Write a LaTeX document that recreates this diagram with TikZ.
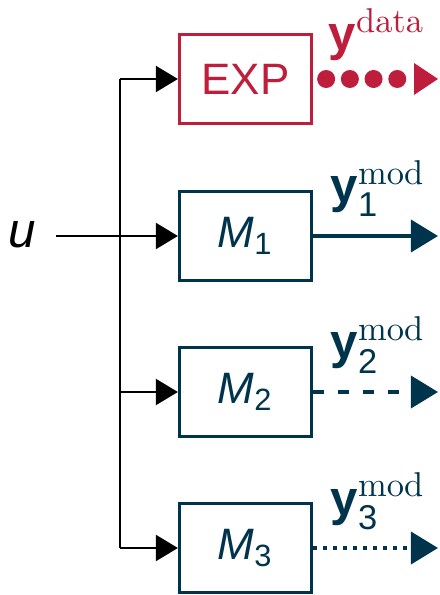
\documentclass[tikz,border=0pt]{standalone}
\usepackage{amsmath}
\usepackage{fontspec}
\usetikzlibrary{arrows.meta}
\newfontfamily\arialfont{Liberation Sans}
\definecolor{expred}{RGB}{190,30,60}
\definecolor{modblue}{RGB}{0,52,77}

\begin{document}
\begin{tikzpicture}[x=0.01cm, y=-0.01cm,
    block/.style={draw, line width=0.9pt, minimum width=1.32cm, minimum height=0.89cm,
        inner sep=0pt, font=\arialfont\fontsize{12.5}{15}\selectfont},
    inarrow/.style={line width=0.6pt, -{Triangle[length=0.22cm 0 0, width=0.26cm 0 0]}},
    outarrow/.style={line width=1.05pt, modblue, -{Triangle[length=0.27cm 0 0, width=0.32cm 0 0]}},
    lbl/.style={anchor=base west, inner sep=0pt, font=\fontsize{14}{16}\selectfont}
]

    \useasboundingbox (0,0) rectangle (439,595);

    % ==========================================
    % BLOCKS
    % ==========================================

    \node[block, expred] (exp) at (245.5, 79) {EXP};
    \node[block, modblue] (m1) at (245.5, 236) {{\itshape M}$_{\text{\arialfont 1}}$};
    \node[block, modblue] (m2) at (245.5, 392) {{\itshape M}$_{\text{\arialfont 2}}$};
    \node[block, modblue] (m3) at (245.5, 548) {{\itshape M}$_{\text{\arialfont 3}}$};

    % ==========================================
    % INPUT AND DISTRIBUTION
    % ==========================================

    \node[inner sep=0pt, font=\arialfont\itshape\fontsize{14}{16}\selectfont] (u) at (22.5, 234.5) {u};
    \coordinate (bus) at (120, 236);

    \draw[line width=0.6pt] (exp.west -| bus) -- (m3.west -| bus);
    \draw[inarrow, shorten <=0.19cm] (u.east |- m1.west) -- (m1.west);
    \foreach \blk in {exp, m2, m3}
        \draw[inarrow] (\blk.west -| bus) -- (\blk.west);

    % ==========================================
    % OUTPUTS
    % ==========================================

    \coordinate (oexp) at (438, 79);
    \coordinate (om1) at (438, 236);
    \coordinate (om2) at (438, 392);
    \coordinate (om3) at (438, 548);

    % Measured data: big dots
    \draw[expred, line width=0.18cm, line cap=round, dash pattern=on 0pt off 0.237cm,
        shorten <=0.13cm,
        -{Triangle[length=0.24cm 0 0, width=0.32cm 0 0, line width=0pt 0 0]}] (exp.east) -- (oexp);

    % Models
    \draw[outarrow] (m1.east) -- (om1);
    \draw[outarrow, dash pattern=on 0.11cm off 0.14cm] (m2.east) -- (om2);
    \draw[outarrow, dash pattern=on 0.035cm off 0.065cm] (m3.east) -- (om3);

    % Labels
    \node[lbl, expred] (ldata) at (328, 51) {{\arialfont\bfseries y}$^{\mathrm{data}}$};
    \node[lbl, modblue] (lm1) at (330, 203) {{\arialfont\bfseries y}$^{\mathrm{mod}}_{\text{\arialfont 1}}$};
    \node[lbl, modblue] (lm2) at (330, 359) {{\arialfont\bfseries y}$^{\mathrm{mod}}_{\text{\arialfont 2}}$};
    \node[lbl, modblue] (lm3) at (330, 515) {{\arialfont\bfseries y}$^{\mathrm{mod}}_{\text{\arialfont 3}}$};

\end{tikzpicture}
\end{document}
